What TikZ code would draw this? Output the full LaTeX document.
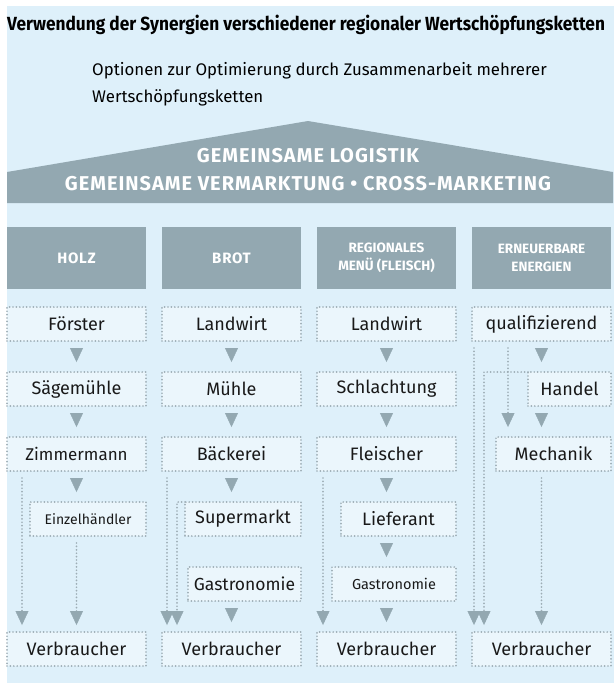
\documentclass[tikz,border=0pt]{standalone}
\usepackage{fontspec}
\setmainfont{Fira Sans}
\newfontfamily\narrowfont[FakeStretch=0.91]{Fira Sans}
\newfontfamily\widefont[LetterSpace=5]{Fira Sans}
\usetikzlibrary{positioning,arrows.meta}
\definecolor{panel}{HTML}{DEF0FA}
\definecolor{boxfill}{HTML}{EBF6FC}
\definecolor{slate}{HTML}{93A8B1}
\definecolor{dots}{HTML}{9DADB5}

\begin{document}
\begin{tikzpicture}[x=1pt, y=-1pt,
  sector/.style={fill=slate, text=white, minimum width=139pt, minimum height=62pt, inner sep=0pt, outer sep=0pt, align=center, font=\widefont\bfseries\fontsize{15}{18}\selectfont},
  stage/.style={draw=dots, fill=boxfill, dash pattern=on 0pt off 3.4pt, line cap=round, line width=1.9pt, minimum height=34pt, minimum width=#1, inner sep=0pt, outer sep=0pt, text=black!90, font=\fontsize{18}{21}\selectfont},
  stage/.default=139pt,
  drop/.style={draw=slate, line width=0.4pt, -{Triangle[width=13pt,length=14pt]}, shorten <=7pt, shorten >=10pt},
  link/.style={draw=dots, dash pattern=on 0pt off 3.4pt, line cap=round, line width=1.9pt, -{Triangle[width=13pt,length=14pt,line width=0.4pt,color=slate,fill=slate]}, shorten <=7pt, shorten >=7pt}]

\useasboundingbox (0,0) rectangle (614,683);
\fill[panel] (7,6) rectangle (614,683);

% TITLE

\node[anchor=west, inner sep=0pt, font=\narrowfont\bfseries\fontsize{19}{22}\selectfont] (titel) at (7,25) {Verwendung der Synergien verschiedener regionaler Wertschöpfungsketten};

\node[anchor=north west, inner sep=0pt, align=left, font=\fontsize{16.8}{27}\selectfont] (optionen) at (92,62) {Optionen zur Optimierung durch Zusammenarbeit mehrerer\\Wertschöpfungsketten};

% ROOF

\fill[slate] (7,172) -- (308,121) -- (613,172) -- (613,203) -- (7,203) -- cycle;
\node[text=white, align=center, font=\widefont\bfseries\fontsize{20}{28}\selectfont] (dach) at (308,170) {GEMEINSAME LOGISTIK\\GEMEINSAME VERMARKTUNG • CROSS-MARKETING};

% SECTORS

\node[sector, anchor=north west] (holz) at (7,227) {HOLZ};
\node[sector, right=16pt of holz] (brot) {BROT};
\node[sector, right=16pt of brot, font=\bfseries\fontsize{13.5}{18.5}\selectfont] (menue) {REGIONALES\\MENÜ (FLEISCH)};
\node[sector, right=16pt of menue, font=\bfseries\fontsize{13.5}{18.5}\selectfont] (energie) {ERNEUERBARE\\ENERGIEN};

% HOLZ

\node[stage, below=18pt of holz] (foerster) {Förster};
\node[stage, below=31pt of foerster] (saegemuehle) {Sägemühle};
\node[stage, below=31pt of saegemuehle, font=\fontsize{17}{20}\selectfont] (zimmermann) {Zimmermann};
\node[stage=116pt, below=31pt of zimmermann.south east, anchor=north east, font=\fontsize{14}{17}\selectfont] (einzelhaendler) {Einzelhändler};
\node[stage, below=96pt of einzelhaendler.south east, anchor=north east] (holz-verbraucher) {Verbraucher};

% BROT

\node[stage, below=18pt of brot] (brot-landwirt) {Landwirt};
\node[stage, below=31pt of brot-landwirt] (muehle) {Mühle};
\node[stage, below=31pt of muehle] (baeckerei) {Bäckerei};
\node[stage=116pt, below=31pt of baeckerei.south east, anchor=north east] (supermarkt) {Supermarkt};
\node[stage=113pt, below=31pt of supermarkt.south east, anchor=north east, font=\fontsize{17.5}{20}\selectfont] (brot-gastronomie) {Gastronomie};
\node[stage, right=16pt of holz-verbraucher] (brot-verbraucher) {Verbraucher};

% REGIONALES MENUE

\node[stage, below=18pt of menue] (menue-landwirt) {Landwirt};
\node[stage, below=31pt of menue-landwirt] (schlachtung) {Schlachtung};
\node[stage, below=31pt of schlachtung] (fleischer) {Fleischer};
\node[stage=115pt, below=31pt of fleischer.south east, anchor=north east] (lieferant) {Lieferant};
\node[stage=124pt, below=31pt of lieferant.south east, anchor=north east, font=\fontsize{14.5}{17}\selectfont] (menue-gastronomie) {Gastronomie};
\node[stage, right=16pt of brot-verbraucher] (menue-verbraucher) {Verbraucher};

% ERNEUERBARE ENERGIEN

\node[stage, below=18pt of energie] (qualifizierend) {qualifizierend};
\node[stage=83pt, below=31pt of qualifizierend.south east, anchor=north east] (handel) {Handel};
\node[stage=115pt, below=31pt of handel.south east, anchor=north east] (mechanik) {Mechanik};
\node[stage, right=16pt of menue-verbraucher] (energie-verbraucher) {Verbraucher};

% FLOWS

\draw[drop] (foerster) -- (saegemuehle);
\draw[drop] (saegemuehle) -- (zimmermann);
\draw[drop] (zimmermann.south) -- (zimmermann.south |- einzelhaendler.north);
\draw[link] ([xshift=15pt]zimmermann.south west) -- ([xshift=15pt]holz-verbraucher.north west);
\draw[link] (einzelhaendler.south -| holz-verbraucher.north) -- (holz-verbraucher.north);

\draw[drop] (brot-landwirt) -- (muehle);
\draw[drop] (muehle) -- (baeckerei);
\draw[drop] (baeckerei.south) -- (baeckerei.south |- supermarkt.north);
\draw[link] ([xshift=5pt]baeckerei.south west) -- ([xshift=5pt]brot-verbraucher.north west);
\draw[link, shorten <=0pt] (supermarkt.north west) -| ([xshift=15pt]brot-verbraucher.north west);
\draw[drop] (brot-verbraucher.north |- brot-gastronomie.south) -- (brot-verbraucher.north);

\draw[drop] (menue-landwirt) -- (schlachtung);
\draw[drop] (schlachtung) -- (fleischer);
\draw[drop] (fleischer.south) -- (fleischer.south |- lieferant.north);
\draw[drop] (fleischer.south |- lieferant.south) -- (fleischer.south |- menue-gastronomie.north);
\draw[link] ([xshift=6pt]fleischer.south west) -- ([xshift=6pt]menue-verbraucher.north west);
\draw[drop] (menue-verbraucher.north |- menue-gastronomie.south) -- (menue-verbraucher.north);

\draw[drop] (qualifizierend.south) -- (qualifizierend.south |- handel.north);
\draw[drop] (qualifizierend.south |- handel.south) -- (qualifizierend.south |- mechanik.north);
\draw[link] ([xshift=2pt]qualifizierend.south west) -- ([xshift=2pt]energie-verbraucher.north west);
\draw[link, shorten <=0pt] (handel.north west) -| ([xshift=12pt]energie-verbraucher.north west);
\draw[link, shorten >=10pt] ([xshift=36pt]qualifizierend.south west) -- ([xshift=36pt]qualifizierend.south west |- mechanik.north);
\draw[link] (mechanik.south -| qualifizierend.south) -- (qualifizierend.south |- energie-verbraucher.north);

\end{tikzpicture}
\end{document}
